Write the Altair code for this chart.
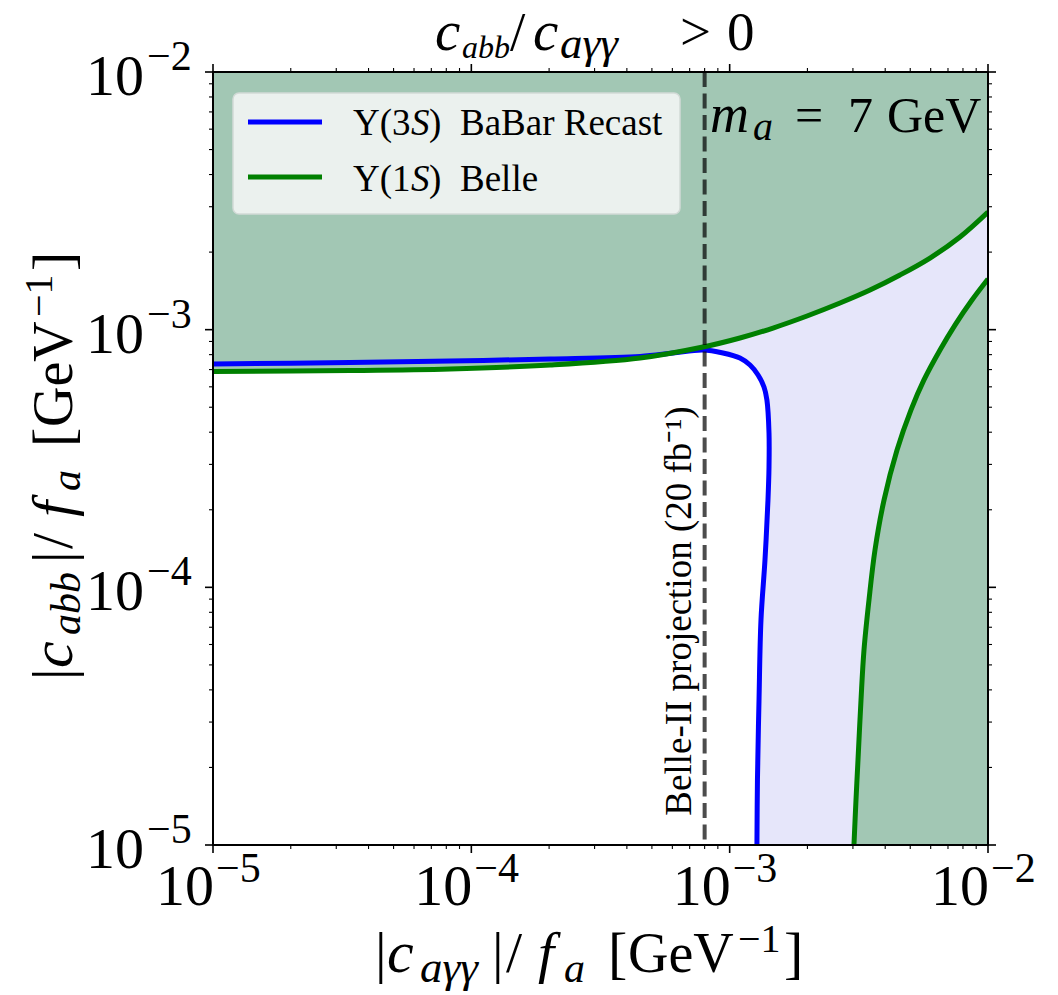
import altair as alt
import pandas as pd

# ---------------- data ----------------
# BaBar Upsilon(3S) recast contour, from the left edge over the knee down to the bottom edge
babar_x = [1.0e-5, 3.39e-5, 8.27e-5, 2.016e-4, 4.50e-4, 6.03e-4, 7.88e-4, 9.42e-4,
           1.096e-3, 1.199e-3, 1.288e-3, 1.358e-3, 1.394e-3, 1.420e-3, 1.420e-3,
           1.407e-3, 1.370e-3, 1.322e-3, 1.299e-3, 1.281e-3, 1.275e-3]
babar_y = [7.36e-4, 7.46e-4, 7.56e-4, 7.69e-4, 7.87e-4, 8.12e-4, 8.34e-4, 8.12e-4,
           7.76e-4, 7.29e-4, 6.67e-4, 5.99e-4, 5.33e-4, 3.97e-4, 2.93e-4,
           2.18e-4, 1.277e-4, 7.47e-5, 3.65e-5, 1.788e-5, 1.0e-5]
BABAR_KNEE = 6  # highest point of the BaBar contour

# Belle Upsilon(1S): upper branch (left to right)
belle_up_x = [1.0e-5, 3.39e-5, 8.27e-5, 2.016e-4, 4.50e-4, 7.88e-4, 1.096e-3, 1.472e-3,
              1.993e-3, 2.674e-3, 3.494e-3, 4.564e-3, 5.964e-3, 7.79e-3, 1.0e-2]
belle_up_y = [6.88e-4, 6.94e-4, 7.04e-4, 7.29e-4, 7.76e-4, 8.56e-4, 9.28e-4, 1.015e-3,
              1.130e-3, 1.269e-3, 1.425e-3, 1.630e-3, 1.897e-3, 2.290e-3, 2.862e-3]

# Belle Upsilon(1S): right branch (top to bottom)
belle_rt_x = [1.0e-2, 8.67e-3, 7.45e-3, 6.52e-3, 5.65e-3, 5.035e-3, 4.445e-3, 3.958e-3,
              3.652e-3, 3.462e-3, 3.311e-3, 3.224e-3, 3.139e-3, 3.083e-3, 3.028e-3]
belle_rt_y = [1.572e-3, 1.303e-3, 1.042e-3, 8.34e-4, 6.38e-4, 4.88e-4, 3.41e-4, 2.18e-4,
              1.396e-4, 8.93e-5, 5.71e-5, 3.65e-5, 2.14e-5, 1.495e-5, 1.0e-5]

# Belle-II projection (20 fb^-1)
belle2_x = [8.0e-4]

# axis decades and their exponent labels
decades = [1e-5, 1e-4, 1e-3, 1e-2]
decade_exp = ["\u22125", "\u22124", "\u22123", "\u22122"]
minor_mult = [2, 3, 4, 5, 6, 7, 8, 9]

# ---------------- styling ----------------
W, H = 775, 773
SERIF = "Liberation Serif"
GREEN_FILL = "#a2c7b4"
LAVENDER = "#e6e6fa"
BLUE = "#0000ff"
GREEN = "#008000"
LW = 5
CURVE = "catmull-rom"

xs = alt.Scale(type="log", domain=[1e-5, 1e-2], nice=False)
ys = alt.Scale(type="log", domain=[1e-5, 1e-2], nice=False)

one = pd.DataFrame({"k": [0]})


def X(field):
    return alt.X(field, scale=xs, axis=None, stack=False)


def Y(field):
    return alt.Y(field, scale=ys, axis=None, stack=False)


def txt(s, x, y, size, italic=False, angle=0, align="left"):
    kw = dict(text=s, font=SERIF, fontSize=size, align=align,
              baseline="alphabetic", color="black")
    if italic:
        kw["fontStyle"] = "italic"
    if angle:
        kw["angle"] = angle
    return alt.Chart(one).mark_text(**kw).encode(x=alt.value(x), y=alt.value(y))


babar_df = pd.DataFrame({"x": babar_x, "y": babar_y, "i": range(len(babar_x))})
inner_df = babar_df.iloc[BABAR_KNEE:].assign(x0=1e-5)
up_df = pd.DataFrame({"x": belle_up_x, "y": belle_up_y, "i": range(len(belle_up_x))}).assign(top=1e-2)
rt_df = pd.DataFrame({"x": belle_rt_x, "y": belle_rt_y, "i": range(len(belle_rt_x))}).assign(edge=1e-2)
b2_df = pd.DataFrame({"x": belle2_x})

# excluded-by-BaBar background, then the allowed region inside the BaBar contour
bg = alt.Chart(one).mark_rect(color=LAVENDER).encode(
    x=alt.value(0), x2=alt.value(W), y=alt.value(0), y2=alt.value(H))
allowed = alt.Chart(inner_df).mark_area(orient="horizontal", color="white", clip=True,
                                        interpolate=CURVE).encode(
    y=Y("y:Q"), x=X("x0:Q"), x2="x:Q")

# Belle-excluded regions
fill_up = alt.Chart(up_df).mark_area(orient="vertical", color=GREEN_FILL, clip=True,
                                     interpolate=CURVE).encode(
    x=X("x:Q"), y=Y("y:Q"), y2="top:Q")
fill_rt = alt.Chart(rt_df).mark_area(orient="horizontal", color=GREEN_FILL, clip=True,
                                     interpolate=CURVE).encode(
    y=Y("y:Q"), x=X("x:Q"), x2="edge:Q")

# boundary curves
line_babar = alt.Chart(babar_df).mark_line(color=BLUE, strokeWidth=LW, clip=True,
                                           interpolate=CURVE).encode(
    x=X("x:Q"), y=Y("y:Q"), order="i:Q")
line_up = alt.Chart(up_df).mark_line(color=GREEN, strokeWidth=LW, clip=True,
                                     interpolate=CURVE).encode(
    x=X("x:Q"), y=Y("y:Q"), order="i:Q")
line_rt = alt.Chart(rt_df).mark_line(color=GREEN, strokeWidth=LW, clip=True,
                                     interpolate=CURVE).encode(
    x=X("x:Q"), y=Y("y:Q"), order="i:Q")

dashed = alt.Chart(b2_df).mark_rule(color="black", opacity=0.7, strokeWidth=4,
                                    strokeDash=[15, 6.5]).encode(
    x=X("x:Q"), y=alt.value(0), y2=alt.value(H))

belle2_label = txt("Belle-II projection (20 fb\u207b\u00b9)", 478, 539, 37, angle=270, align="center")

# mass annotation
mass = [
    txt("m", 497, 60, 54, italic=True),
    txt("a", 540, 68, 40, italic=True),
    txt("=", 582, 60, 50),
    txt("7", 635, 60, 50),
    txt("GeV", 674, 60, 50),
]

# legend
legend_box = alt.Chart(one).mark_rect(color="#ebf1ee", stroke="#d2dad6", strokeWidth=1.5,
                                      cornerRadius=6).encode(
    x=alt.value(20), x2=alt.value(467), y=alt.value(21), y2=alt.value(142))
legend_lines = [
    alt.Chart(one).mark_rule(color=BLUE, strokeWidth=LW).encode(
        x=alt.value(35), x2=alt.value(109), y=alt.value(50)),
    alt.Chart(one).mark_rule(color=GREEN, strokeWidth=LW).encode(
        x=alt.value(35), x2=alt.value(109), y=alt.value(105)),
]
legend_text = [
    txt("\u03a5(3", 140, 63, 37), txt("S", 198, 63, 37, italic=True), txt(")", 216, 63, 37),
    txt("BaBar Recast", 247, 63, 37),
    txt("\u03a5(1", 140, 119, 37), txt("S", 198, 119, 37, italic=True), txt(")", 216, 119, 37),
    txt("Belle", 247, 119, 37),
]

# frame and ticks (outward, on all four sides)
frame = alt.Chart(one).mark_rect(fillOpacity=0, stroke="black", strokeWidth=2).encode(
    x=alt.value(0), x2=alt.value(W), y=alt.value(0), y2=alt.value(H))

major_df = pd.DataFrame({"v": decades, "exp": decade_exp, "base": ["10"] * len(decades)})
minor_df = pd.DataFrame({"v": [m * d for d in decades[:-1] for m in minor_mult]})


def ticks(df, length, width):
    out = []
    for y0, y1 in [(H, H + length), (0, -length)]:
        out.append(alt.Chart(df).mark_rule(color="black", strokeWidth=width).encode(
            x=X("v:Q"), y=alt.value(y0), y2=alt.value(y1)))
    for x0, x1 in [(0, -length), (W, W + length)]:
        out.append(alt.Chart(df).mark_rule(color="black", strokeWidth=width).encode(
            y=Y("v:Q"), x=alt.value(x0), x2=alt.value(x1)))
    return out


tick_layers = ticks(major_df, 8, 1.6) + ticks(minor_df, 4, 1.1)

# tick labels: "10" with a raised exponent
xlab_base = alt.Chart(major_df).mark_text(font=SERIF, fontSize=58, align="right",
                                          baseline="alphabetic", dx=1).encode(
    x=X("v:Q"), y=alt.value(H + 60), text="base:N")
xlab_exp = alt.Chart(major_df).mark_text(font=SERIF, fontSize=42, align="left",
                                         baseline="alphabetic", dx=3).encode(
    x=X("v:Q"), y=alt.value(H + 37), text="exp:N")
ylab_base = alt.Chart(major_df).mark_text(font=SERIF, fontSize=58, align="right",
                                          baseline="alphabetic", dy=23).encode(
    y=Y("v:Q"), x=alt.value(-69), text="base:N")
ylab_exp = alt.Chart(major_df).mark_text(font=SERIF, fontSize=42, align="left",
                                         baseline="alphabetic", dy=-2).encode(
    y=Y("v:Q"), x=alt.value(-66), text="exp:N")

# titles
title = [
    txt("c", 222, -22, 57, italic=True),
    txt("abb", 249, -14, 32, italic=True),
    txt("/", 297, -22, 55),
    txt("c", 320, -22, 57, italic=True),
    txt("a\u03b3\u03b3", 347, -14, 45, italic=True),
    txt(">", 467, -22, 55),
    txt("0", 514, -22, 55),
]

# axis title pieces: (text, offset along the axis, size, italic, shift) with shift 0 / 1 (sub) / -1 (sup)
xt_pieces = [
    ("|", 375, 58, False, 0),
    ("c", 387, 60, True, 0),
    ("a\u03b3\u03b3", 420, 45, True, 1),
    ("|", 492, 58, False, 0),
    ("/", 506, 58, False, 0),
    ("f", 538, 58, True, 0),
    ("a", 564, 42, True, 1),
    ("[", 608, 58, False, 0),
    ("GeV", 628, 56, False, 0),
    ("\u22121", 738, 40, False, -1),
    ("]", 784, 58, False, 0),
]
xtitle = []
for s, left, size, it, sh in xt_pieces:
    base_y = 900 + (10 if sh == 1 else (-20 if sh == -1 else 0))
    xtitle.append(txt(s, left - 213, base_y, size, italic=it))

# y-axis title pieces (reads bottom to top)
yt_pieces = [
    ("|", 375, 58, False, 0),
    ("c", 387, 60, True, 0),
    ("abb", 420, 42, True, 1),
    ("|", 492, 58, False, 0),
    ("/", 506, 58, False, 0),
    ("f", 538, 58, True, 0),
    ("a", 564, 42, True, 1),
    ("[", 608, 58, False, 0),
    ("GeV", 628, 56, False, 0),
    ("\u22121", 738, 40, False, -1),
    ("]", 784, 58, False, 0),
]
ytitle = []
for s, along, size, it, sh in yt_pieces:
    base_x = -141 + (8 if sh == 1 else (-20 if sh == -1 else 0))
    ytitle.append(txt(s, base_x, 983 - along, size, italic=it, angle=270))

layers = ([bg, allowed, fill_up, fill_rt, line_babar, line_up, line_rt, dashed, belle2_label]
          + mass + [legend_box] + legend_lines + legend_text + [frame] + tick_layers
          + [xlab_base, xlab_exp, ylab_base, ylab_exp] + title + xtitle + ytitle)

chart = alt.layer(*layers).properties(
    width=W, height=H,
    autosize=alt.AutoSizeParams(type="none"),
    padding={"left": 213, "top": 72, "right": 70, "bottom": 150},
    background="white",
).configure_view(strokeWidth=0)

chart.save("out.html", embed_options={"renderer": "svg", "actions": False})
